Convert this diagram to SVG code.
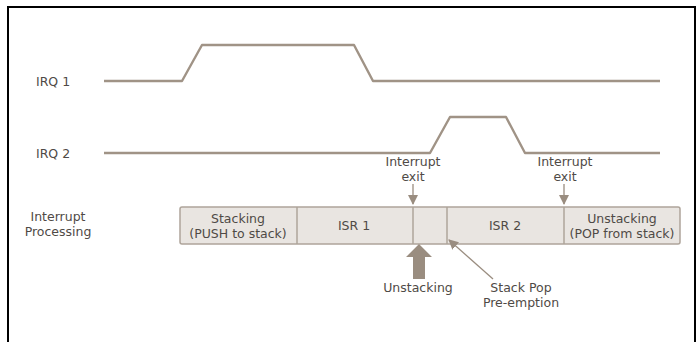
<svg xmlns="http://www.w3.org/2000/svg" width="698" height="342" viewBox="0 0 698 342">
<defs>
<style>
text{font-family:"DejaVu Sans","Liberation Sans",sans-serif;font-size:12.5px;fill:#4f4a46}
.c{text-anchor:middle}
.sig{fill:none;stroke:#a09386;stroke-width:2.4;stroke-linejoin:round}
.seg{fill:#e9e5e1;stroke:#aea49a;stroke-width:1.5}
.div{stroke:#aea49a;stroke-width:1.5}
.ar{stroke:#9a8d80;stroke-width:1.3;fill:none}
</style>
<marker id="ah" markerWidth="10" markerHeight="10" refX="9" refY="5" orient="auto" markerUnits="userSpaceOnUse">
<path d="M0,0 L10,5 L0,10 Z" fill="#9a8d80"/>
</marker>
</defs>
<rect x="8" y="7" width="687" height="345" fill="#fff" stroke="#000" stroke-width="2"/>
<g id="irq1">
<text x="36" y="86">IRQ 1</text>
<polyline class="sig" points="104,81 182,81 202,45 354,45 373,81 660,81"/>
</g>
<g id="irq2">
<text x="36" y="158">IRQ 2</text>
<polyline class="sig" points="104,153 430,153 450,117 506,117 525,153 660,153"/>
</g>
<g id="proc-label">
<text class="c" x="58" y="221">Interrupt</text>
<text class="c" x="58" y="236">Processing</text>
</g>
<g id="bar">
<rect class="seg" x="180" y="207" width="500" height="37" rx="2"/>
<line class="div" x1="297" y1="207" x2="297" y2="244"/>
<line class="div" x1="413" y1="207" x2="413" y2="244"/>
<line class="div" x1="447" y1="207" x2="447" y2="244"/>
<line class="div" x1="564" y1="207" x2="564" y2="244"/>
</g>
<g id="stacking">
<text class="c" x="238" y="223">Stacking</text>
<text class="c" x="238" y="238">(PUSH to stack)</text>
</g>
<g id="isr1"><text class="c" x="354" y="230">ISR 1</text></g>
<g id="isr2"><text class="c" x="505" y="230">ISR 2</text></g>
<g id="unstacking-box">
<text class="c" x="622" y="223">Unstacking</text>
<text class="c" x="622" y="238">(POP from stack)</text>
</g>
<g id="exit1">
<text class="c" x="413" y="166">Interrupt</text>
<text class="c" x="413" y="181">exit</text>
</g>
<g id="exit2">
<text class="c" x="565" y="166">Interrupt</text>
<text class="c" x="565" y="181">exit</text>
</g>
<g id="unstack-label"><text class="c" x="418" y="292">Unstacking</text></g>
<g id="preempt-label">
<text class="c" x="521" y="292">Stack Pop</text>
<text class="c" x="521" y="307">Pre-emption</text>
</g>
<g id="connectors">
<line class="ar" x1="413" y1="184" x2="413" y2="204" marker-end="url(#ah)"/>
<line class="ar" x1="564" y1="184" x2="564" y2="204" marker-end="url(#ah)"/>
<path d="M419,244 L432,257 L425,257 L425,279 L413,279 L413,257 L406,257 Z" fill="#9a8d80"/>
<line class="ar" x1="493" y1="279" x2="449" y2="240" marker-end="url(#ah)"/>
</g>
</svg>
